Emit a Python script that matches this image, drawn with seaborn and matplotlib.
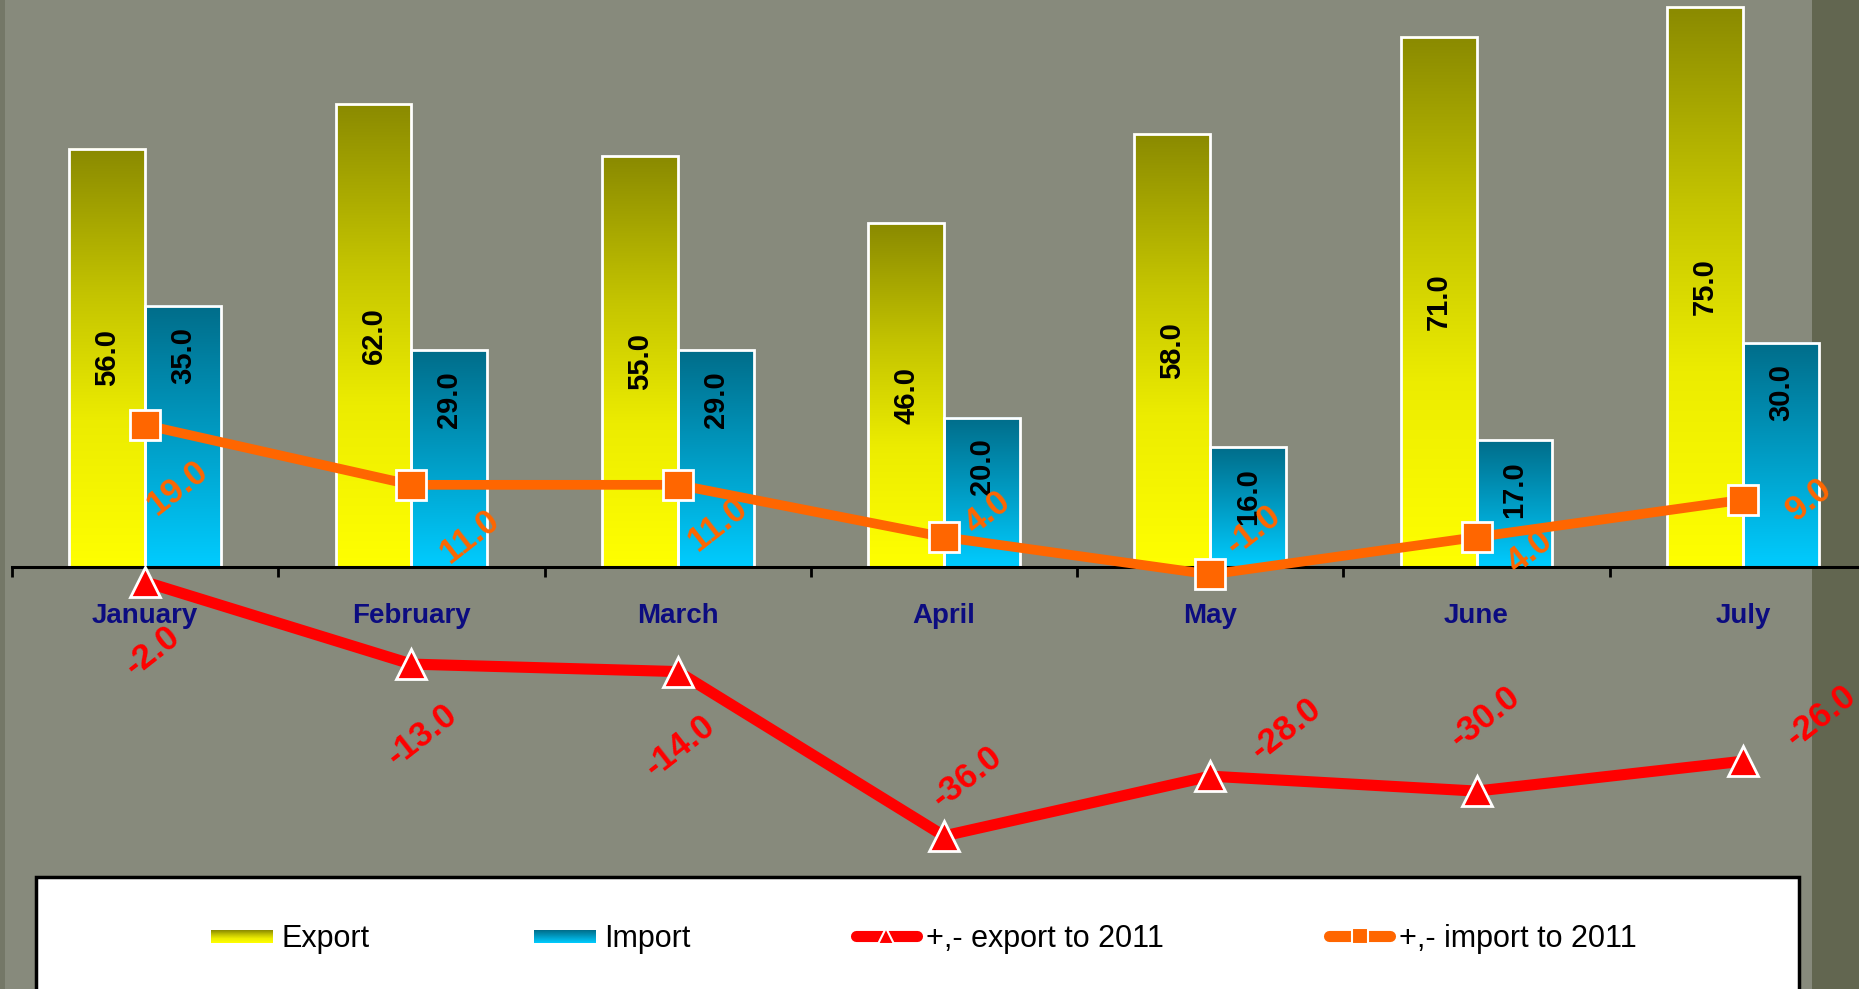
import numpy as np
import pandas as pd
import matplotlib

matplotlib.use("Agg")
import matplotlib.pyplot as plt
import seaborn as sns
from matplotlib.colors import LinearSegmentedColormap
from matplotlib.image import BboxImage
from matplotlib.legend_handler import HandlerBase
from matplotlib.lines import Line2D
from matplotlib.patches import Patch, Rectangle
from matplotlib.transforms import Bbox, TransformedBbox

# data
months = ["January", "February", "March", "April", "May", "June", "July"]
export = [56.0, 62.0, 55.0, 46.0, 58.0, 71.0, 75.0]
imports = [35.0, 29.0, 29.0, 20.0, 16.0, 17.0, 30.0]
export_diff = [-2.0, -13.0, -14.0, -36.0, -28.0, -30.0, -26.0]
import_diff = [19.0, 11.0, 11.0, 4.0, -1.0, 4.0, 9.0]
series_names = ["Export", "Import", "+,- export to 2011", "+,- import to 2011"]

# where the line value labels sit relative to their point (pixels)
export_label_offsets = [(7, -69), (11, -71), (2, -75), (23, 59), (76, 47), (8, 74), (78, 45)]
import_label_offsets = [(32, -63), (58, -51), (40, -39), (44, 24), (43, 44), (53, -15), (66, 0)]

BG = "#878a7c"
RED = "#ff0000"
ORANGE = "#ff6600"
NAVY = "#0c0c80"

# bar gradients, top (dark) to bottom (light)
export_cmap = LinearSegmentedColormap.from_list(
    "exp", [(0, "#8a8a00"), (0.35, "#c4c400"), (0.65, "#ecec00"), (1, "#ffff00")])
import_cmap = LinearSegmentedColormap.from_list(
    "imp", [(0, "#006d8a"), (0.5, "#009cc4"), (1, "#00ccff")])

sns.set_theme(style="white")
plt.rcParams["font.family"] = ["Liberation Sans", "DejaVu Sans"]


class GradientHandler(HandlerBase):
    """legend handle drawn as a vertical gradient bar"""

    def __init__(self, cmap):
        super().__init__()
        self.cmap = cmap

    def create_artists(self, legend, orig_handle, xdescent, ydescent,
                       width, height, fontsize, trans):
        h = height * 0.6
        y0 = -ydescent + (height - h) / 2
        bbox = TransformedBbox(Bbox.from_bounds(-xdescent, y0, width, h), trans)
        img = BboxImage(bbox, cmap=self.cmap, interpolation="bicubic")
        img.set_data(np.linspace(0, 1, 64).reshape(-1, 1))
        return [img]


def main():
    W, H = 1859, 989
    fig = plt.figure(figsize=(W / 100, H / 100), dpi=100, facecolor=BG)
    # axes spans the whole height; x range runs a little past the right edge
    ax = fig.add_axes([12 / W, 0, 1864 / W, 1])
    ax.set_facecolor("none")

    # torn dark border on the right, slightly darker rim on the left
    fig.patches.append(Rectangle((1812 / W, 0), 60 / W, 1, transform=fig.transFigure,
                                 facecolor="#626650", edgecolor="none", zorder=-1))
    fig.patches.append(Rectangle((0, 0), 5 / W, 1, transform=fig.transFigure,
                                 facecolor="#747767", edgecolor="none", zorder=-1))

    bars = pd.DataFrame({
        "month": months * 2,
        "value": export + imports,
        "series": ["Export"] * len(months) + ["Import"] * len(months),
    })
    sns.barplot(data=bars, x="month", y="value", hue="series", order=months,
                hue_order=["Export", "Import"], palette=["#ffff00", "#00ccff"],
                saturation=1, width=0.57, edgecolor="white", linewidth=2,
                legend=False, errorbar=None, ax=ax, zorder=2)

    grad = np.linspace(0, 1, 256).reshape(-1, 1)
    for bar in list(ax.patches):
        x0, w, h = bar.get_x(), bar.get_width(), bar.get_height()
        cx = x0 + w / 2
        is_export = cx < round(cx)  # left bar of each pair
        ax.imshow(grad, cmap=export_cmap if is_export else import_cmap,
                  extent=[x0, x0 + w, 0, h], aspect="auto", zorder=2.1,
                  interpolation="bicubic")
        bar.set_facecolor("none")
        bar.set_zorder(2.2)
        if is_export:
            ax.text(cx, h / 2, f"{h:.1f}", rotation=90, ha="center", va="center",
                    fontsize=21, fontweight="bold", color="black", zorder=3)
        else:
            ax.annotate(f"{h:.1f}", (cx, h), xytext=(0, -21), textcoords="offset pixels",
                        rotation=90, ha="center", va="top", fontsize=21,
                        fontweight="bold", color="black", zorder=3)

    sns.pointplot(x=months, y=import_diff, order=months, color=ORANGE, markers="s",
                  linestyles="-", markersize=21, linewidth=7, markeredgecolor="white",
                  markeredgewidth=2, errorbar=None, ax=ax, zorder=4)
    sns.pointplot(x=months, y=export_diff, order=months, color=RED, markers="^",
                  linestyles="-", markersize=22, linewidth=8, markeredgecolor="white",
                  markeredgewidth=2, errorbar=None, ax=ax, zorder=4)

    for i, (v, off) in enumerate(zip(import_diff, import_label_offsets)):
        ax.annotate(f"{v:.1f}", (i, v), xytext=off, textcoords="offset pixels",
                    rotation=38, ha="center", va="center", fontsize=25,
                    fontweight="bold", color=ORANGE, zorder=5)
    for i, (v, off) in enumerate(zip(export_diff, export_label_offsets)):
        ax.annotate(f"{v:.1f}", (i, v), xytext=off, textcoords="offset pixels",
                    rotation=38, ha="center", va="center", fontsize=25,
                    fontweight="bold", color=RED, zorder=5)

    # scale: value 0 at y=567px, 7.47 px per unit
    ax.set_xlim(-0.5, 6.5)
    ax.set_ylim(-(H - 567) / 7.47, 567 / 7.47)
    ax.set_xlabel("")
    ax.set_ylabel("")
    ax.set_yticks([])

    for side in ["top", "left", "right"]:
        ax.spines[side].set_visible(False)
    ax.spines["bottom"].set_position(("data", 0))
    ax.spines["bottom"].set_color("black")
    ax.spines["bottom"].set_linewidth(2.2)
    ax.spines["bottom"].set_zorder(3)
    ax.set_xticks(range(len(months)))
    ax.set_xticklabels(months)
    ax.set_xticks(np.arange(-0.5, len(months)), minor=True)
    ax.tick_params(axis="x", which="major", length=0, pad=26, labelsize=20,
                   labelcolor=NAVY)
    ax.tick_params(axis="x", which="minor", direction="out", length=7, width=2,
                   color="black", bottom=True)
    for lab in ax.get_xticklabels():
        lab.set_fontweight("bold")

    # legend box at the bottom
    fig.patches.append(Rectangle((36 / W, -0.05), (1799 - 36) / W, 0.05 + (1 - 877 / H),
                                 transform=fig.transFigure, facecolor="white",
                                 edgecolor="black", linewidth=2.5, zorder=4))
    export_handle = Patch(label=series_names[0])
    import_handle = Patch(label=series_names[1])
    handles = [
        export_handle,
        import_handle,
        Line2D([], [], color=RED, lw=8, marker="^", ms=12, mec="white", mew=1.5,
               solid_capstyle="round", label=series_names[2]),
        Line2D([], [], color=ORANGE, lw=8, marker="s", ms=11, mec="white", mew=1.5,
               solid_capstyle="round", label=series_names[3]),
    ]
    leg = fig.legend(handles=handles, loc="center",
                     bbox_to_anchor=(0.497, 1 - 939 / H), ncol=4, frameon=False,
                     fontsize=22, handlelength=2.0, handletextpad=0.3,
                     columnspacing=5.4,
                     handler_map={export_handle: GradientHandler(export_cmap),
                                  import_handle: GradientHandler(import_cmap)})
    for t in leg.get_texts():
        t.set_color("black")
    leg.set_zorder(6)

    fig.savefig("out.png", dpi=100, facecolor=BG)


if __name__ == "__main__":
    main()
